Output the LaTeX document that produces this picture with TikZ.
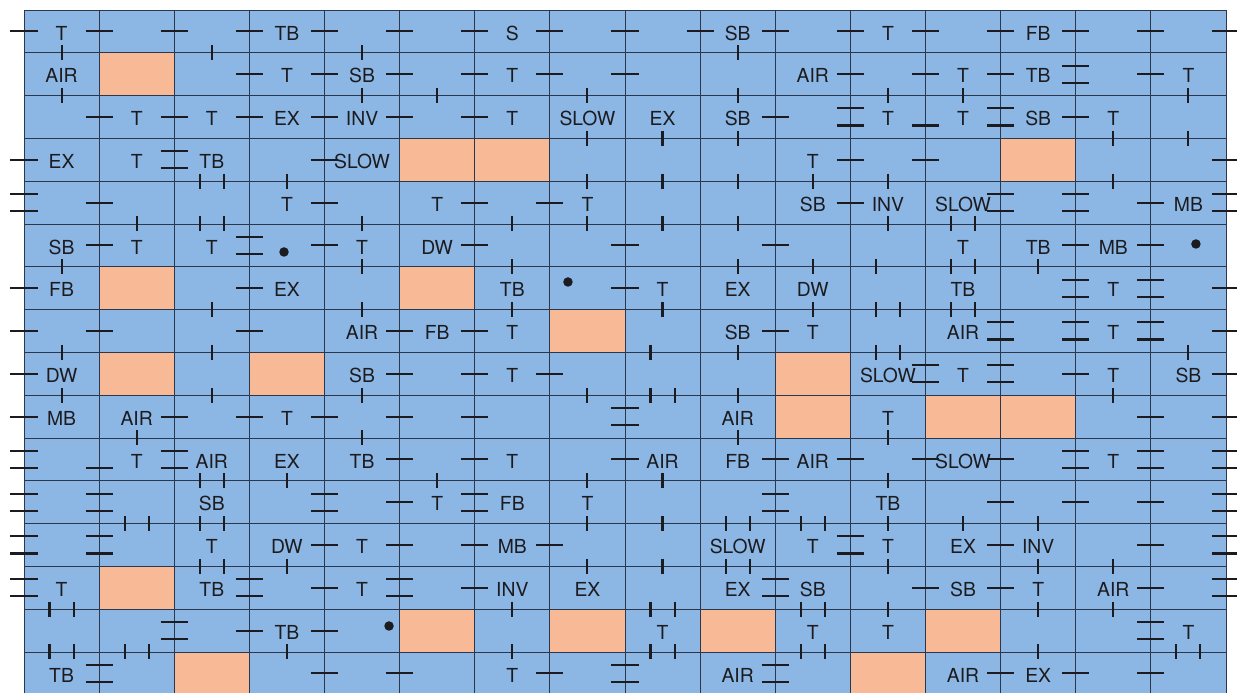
\documentclass[tikz,border=0pt]{standalone}
\usepackage{fontspec}
\setmainfont{TeX Gyre Heros}
\usepackage{tikz}
\definecolor{board}{RGB}{140,182,228}
\definecolor{blocked}{RGB}{248,186,150}
\definecolor{gridcol}{RGB}{45,55,75}
\definecolor{ink}{RGB}{28,28,32}

\begin{document}
\begin{tikzpicture}[
    x=1.5025cm, y=-0.856cm,
    font=\fontsize{11}{13}\selectfont,
    gridline/.style={draw=gridcol, line width=0.5pt},
    hole/.style={fill=blocked},
    link/.style={draw=ink, line width=1.2pt},
    lbl/.style={inner sep=0pt, text=ink, yshift=-1pt},
    spot/.style={circle, fill=ink, inner sep=0pt, minimum size=0.19cm}
]
\useasboundingbox (-0.3195,-0.2336) rectangle (16.147,15.958);
\fill[board] (0,0) rectangle (16,15.958);

\foreach \c/\r in {2/2, 6/4, 7/4, 14/4, 2/7, 6/7, 8/8, 2/9, 4/9, 11/9,
    11/10, 13/10, 14/10, 2/14, 6/15, 8/15, 10/15, 13/15, 3/16, 12/16}
    \fill[hole] (\c-1,\r-1) rectangle (\c,\r);

\foreach \i in {1,...,15} \draw[gridline] (\i,0) -- (\i,15.958);
\foreach \j in {1,...,15} \draw[gridline] (0,\j) -- (16,\j);
\draw[gridline] (0,15.958) -- (0,0) -- (16,0) -- (16,15.958);

\foreach \c/\r/\t in {
    1/1/T, 4/1/TB, 7/1/S, 10/1/SB, 12/1/T, 14/1/FB,
    1/2/AIR, 4/2/T, 5/2/SB, 7/2/T, 11/2/AIR, 13/2/T, 14/2/TB, 16/2/T,
    2/3/T, 3/3/T, 4/3/EX, 5/3/INV, 7/3/T, 8/3/SLOW, 9/3/EX, 10/3/SB, 12/3/T, 13/3/T, 14/3/SB, 15/3/T,
    1/4/EX, 2/4/T, 3/4/TB, 5/4/SLOW, 11/4/T,
    4/5/T, 6/5/T, 8/5/T, 11/5/SB, 12/5/INV, 13/5/SLOW, 16/5/MB,
    1/6/SB, 2/6/T, 3/6/T, 5/6/T, 6/6/DW, 13/6/T, 14/6/TB, 15/6/MB,
    1/7/FB, 4/7/EX, 7/7/TB, 9/7/T, 10/7/EX, 11/7/DW, 13/7/TB, 15/7/T,
    5/8/AIR, 6/8/FB, 7/8/T, 10/8/SB, 11/8/T, 13/8/AIR, 15/8/T,
    1/9/DW, 5/9/SB, 7/9/T, 12/9/SLOW, 13/9/T, 15/9/T, 16/9/SB,
    1/10/MB, 2/10/AIR, 4/10/T, 10/10/AIR, 12/10/T,
    2/11/T, 3/11/AIR, 4/11/EX, 5/11/TB, 7/11/T, 9/11/AIR, 10/11/FB, 11/11/AIR, 13/11/SLOW, 15/11/T,
    3/12/SB, 6/12/T, 7/12/FB, 8/12/T, 12/12/TB,
    3/13/T, 4/13/DW, 5/13/T, 7/13/MB, 10/13/SLOW, 11/13/T, 12/13/T, 13/13/EX, 14/13/INV,
    1/14/T, 3/14/TB, 5/14/T, 7/14/INV, 8/14/EX, 10/14/EX, 11/14/SB, 13/14/SB, 14/14/T, 15/14/AIR,
    4/15/TB, 9/15/T, 11/15/T, 12/15/T, 16/15/T,
    1/16/TB, 7/16/T, 10/16/AIR, 13/16/AIR, 14/16/EX}
    \node[lbl] (t-\c-\r) at (\c-0.5,\r-0.5) {\t};

\node[spot] (dot-a) at (3.461,5.654) {};
\node[spot] (dot-b) at (15.60,5.467) {};
\node[spot] (dot-c) at (7.241,6.355) {};
\node[spot] (dot-d) at (4.859,14.393) {};

\foreach \g in {0,...,16} \draw[link] (\g-0.18,0.5) -- (\g+0.18,0.5);
\foreach \g/\r in {
    3/2, 4/2, 5/2, 6/2, 7/2, 8/2, 11/2, 12/2, 13/2, 15/2,
    1/3, 2/3, 3/3, 4/3, 5/3, 6/3, 10/3, 14/3,
    0/4, 4/4, 11/4, 12/4, 16/4,
    1/5, 4/5, 6/5, 7/5, 11/5, 15/5,
    1/6, 4/6, 6/6, 8/6, 10/6, 14/6, 15/6,
    0/7, 3/7, 8/7, 16/7,
    0/8, 1/8, 3/8, 5/8, 6/8, 10/8, 16/8,
    0/9, 5/9, 6/9, 7/9, 14/9, 16/9,
    0/10, 2/10, 3/10, 4/10, 5/10, 6/10, 15/10, 16/10,
    5/11, 6/11, 8/11, 10/11, 11/11, 12/11, 13/11,
    5/12, 13/12, 14/12, 15/12,
    4/13, 5/13, 6/13, 7/13, 13/13, 15/13,
    4/14, 6/14, 12/14, 13/14, 15/14,
    3/15, 4/15,
    4/16, 5/16, 7/16, 13/16, 14/16, 15/16}
    \draw[link] (\g-0.18,\r-0.5) -- (\g+0.18,\r-0.5);
\foreach \g/\r in {
    14/2, 11/3, 13/3, 2/4, 0/5, 13/5, 14/5, 16/5, 3/6, 14/7, 15/7,
    13/8, 14/8, 15/8, 12/9, 13/9, 8/10, 0/11, 2/11, 14/11, 15/11, 16/11,
    0/12, 1/12, 4/12, 6/12, 10/12, 16/12, 0/13, 1/13, 11/13, 16/13,
    0/14, 3/14, 5/14, 10/14, 16/14, 2/15, 15/15, 1/16, 8/16, 10/16} {
    \draw[link] (\g-0.18,\r-0.7) -- (\g+0.18,\r-0.7);
    \draw[link] (\g-0.18,\r-0.3) -- (\g+0.18,\r-0.3);
}
\foreach \g/\r in {12/3, 1/11}
    \draw[link] (\g-0.18,\r-0.3) -- (\g+0.18,\r-0.3);

\foreach \c/\h in {
    1/1, 3/1, 5/1, 10/1,
    1/2, 5/2, 6/2, 8/2, 10/2, 12/2, 13/2, 16/2,
    8/3, 9/3, 10/3, 15/3, 16/3,
    4/4, 8/4, 9/4, 10/4, 11/4, 12/4, 15/4,
    2/5, 5/5, 7/5, 8/5, 9/5, 10/5, 12/5,
    1/6, 5/6, 7/6, 10/6, 11/6, 14/6,
    3/7, 5/7, 7/7, 9/7, 11/7,
    1/8, 3/8, 10/8, 16/8,
    1/9, 3/9, 5/9, 8/9, 10/9, 15/9,
    2/10, 5/10, 10/10, 12/10,
    4/11, 6/11, 8/11, 9/11, 12/11,
    8/12, 9/12, 12/12, 13/12, 14/12,
    4/13, 8/13, 9/13, 12/13, 14/13, 15/13,
    7/14, 12/14, 14/14, 15/14,
    4/15, 7/15, 14/15}
    \draw[link] (\c-0.5,\h-0.175) -- (\c-0.5,\h+0.175);
\foreach \c/\h in {
    3/4, 3/5, 13/5, 13/6, 12/7, 13/7, 12/8, 9/9, 3/11,
    2/12, 3/12, 10/12, 11/12, 3/13, 10/13, 1/14, 9/14, 11/14,
    1/15, 2/15, 9/15, 11/15, 16/15} {
    \draw[link] (\c-0.66,\h-0.175) -- (\c-0.66,\h+0.175);
    \draw[link] (\c-0.34,\h-0.175) -- (\c-0.34,\h+0.175);
}
\foreach \c/\h in {12/6, 9/8}
    \draw[link] (\c-0.66,\h-0.175) -- (\c-0.66,\h+0.175);
\end{tikzpicture}
\end{document}
